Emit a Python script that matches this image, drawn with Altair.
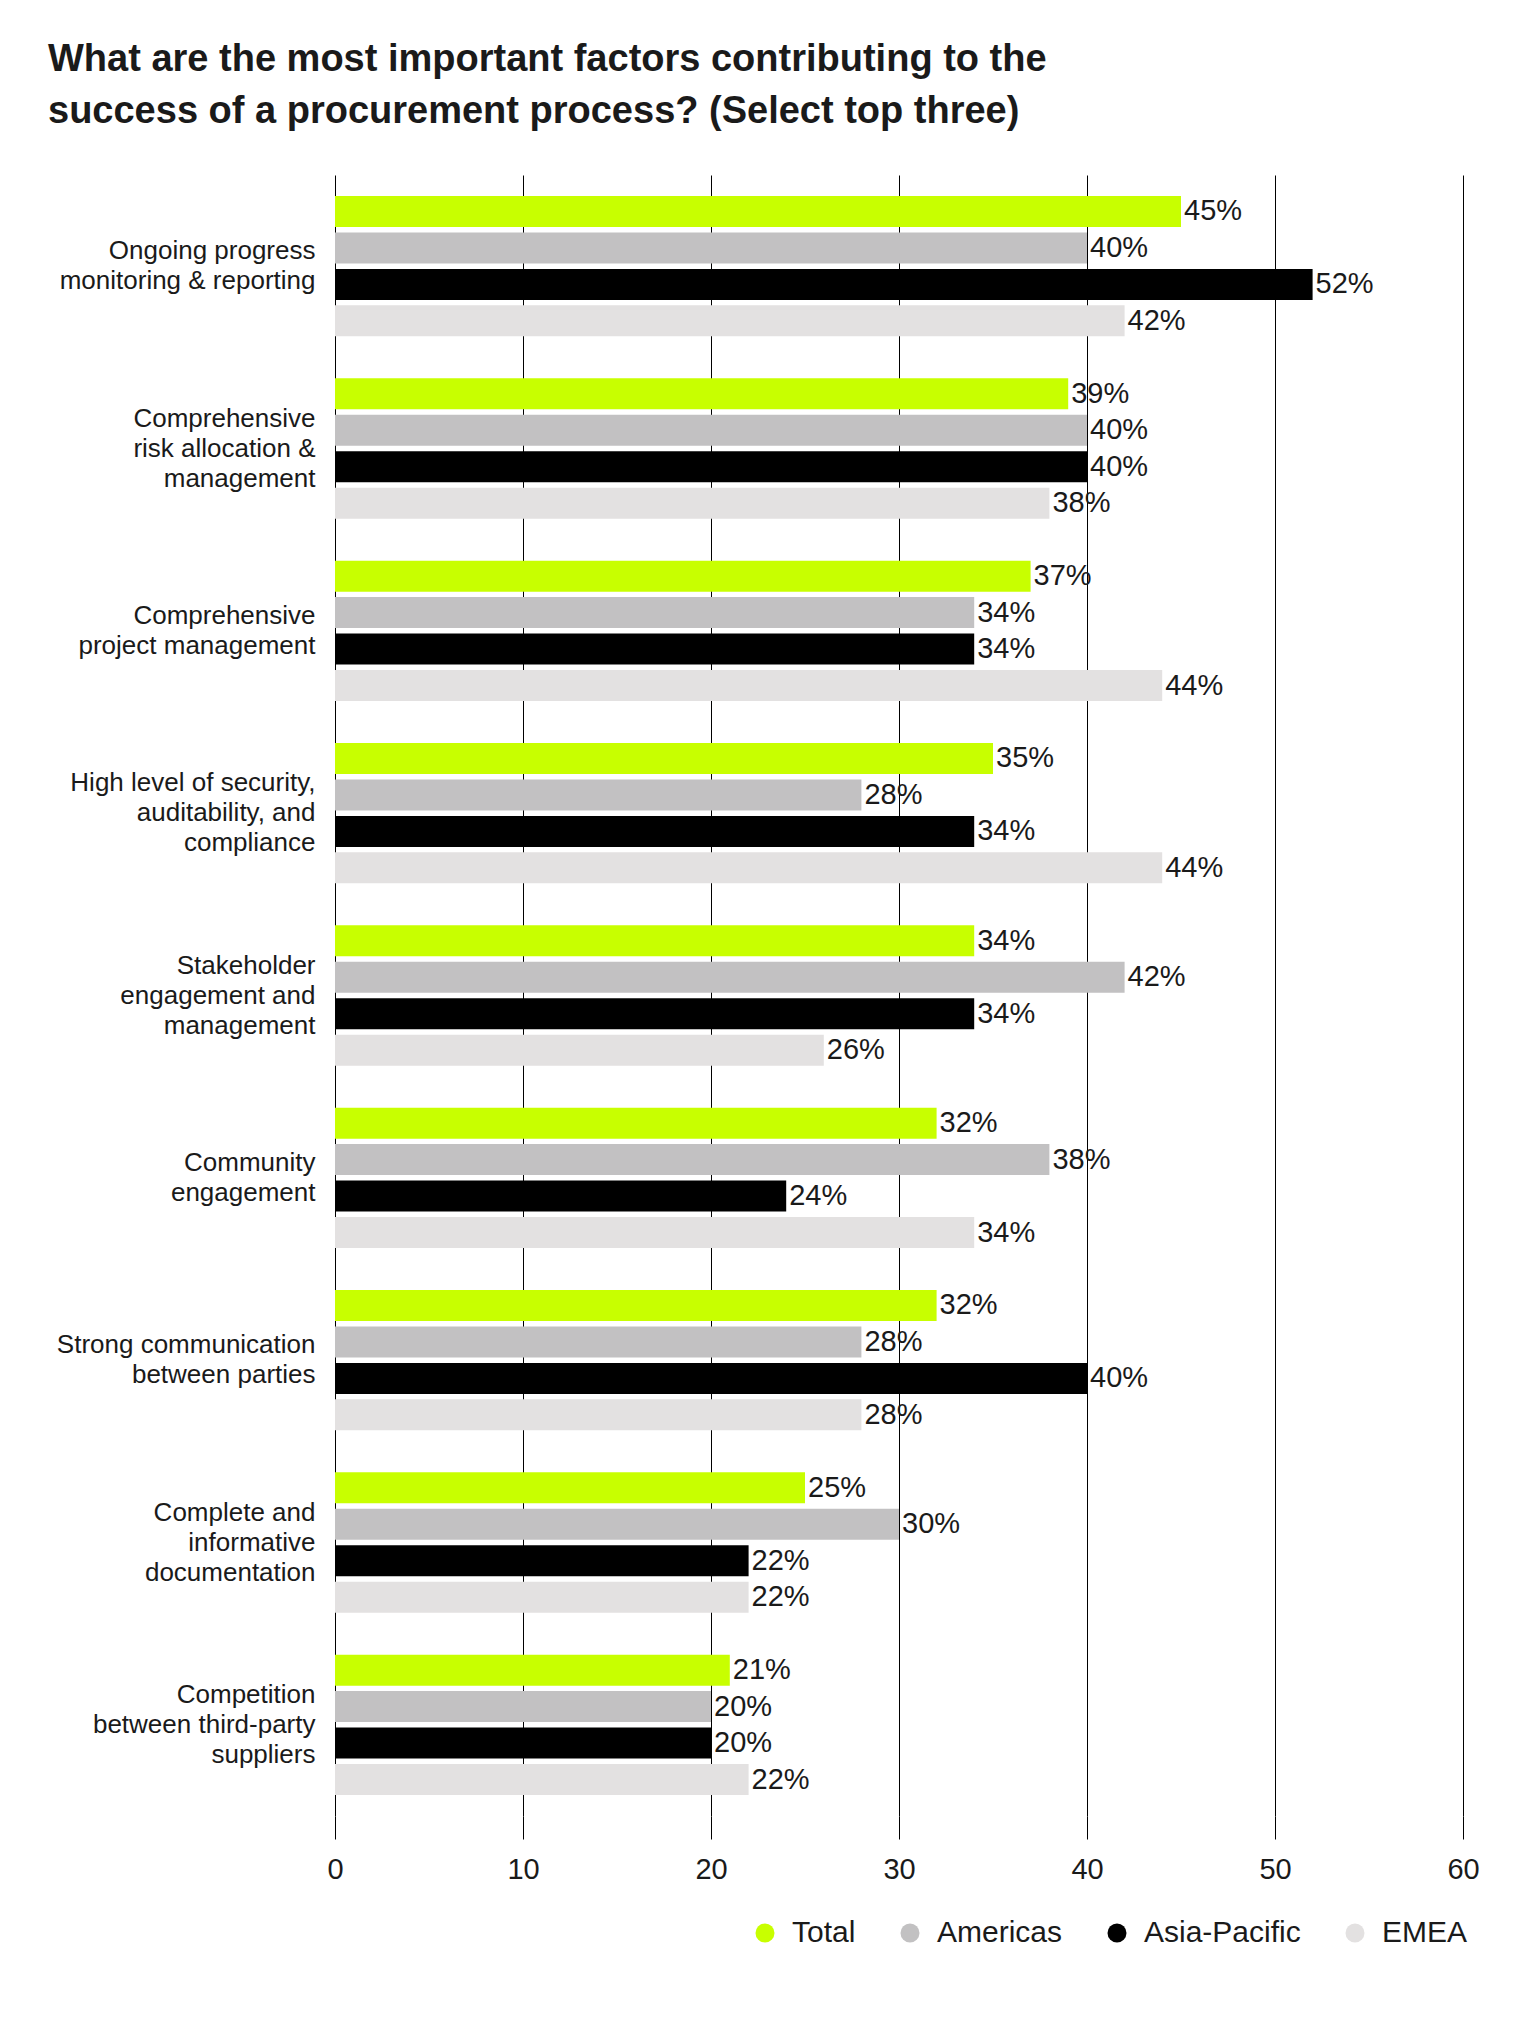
import altair as alt
import pandas as pd

categories = [
    "Ongoing progress|monitoring & reporting",
    "Comprehensive|risk allocation &|management",
    "Comprehensive|project management",
    "High level of security,|auditability, and|compliance",
    "Stakeholder|engagement and|management",
    "Community|engagement",
    "Strong communication|between parties",
    "Complete and|informative|documentation",
    "Competition|between third-party|suppliers",
]
series = ["Total", "Americas", "Asia-Pacific", "EMEA"]
total = [45, 39, 37, 35, 34, 32, 32, 25, 21]
americas = [40, 40, 34, 28, 42, 38, 28, 30, 20]
asia_pacific = [52, 40, 34, 34, 34, 24, 40, 22, 20]
emea = [42, 38, 44, 44, 26, 34, 28, 22, 22]
x_ticks = [0, 10, 20, 30, 40, 50, 60]
colors = ["#C8FF00", "#C2C1C2", "#000000", "#E3E1E1"]

rows = []
for s, vals in zip(series, [total, americas, asia_pacific, emea]):
    for c, v in zip(categories, vals):
        rows.append({"category": c, "series": s, "value": v, "label": f"{v}%"})
df = pd.DataFrame(rows)

FONT = "Liberation Sans"
INK = "#1a1a1a"

y_axis = alt.Axis(
    title=None,
    labelExpr="split(datum.label, '|')",
    ticks=False,
    domain=False,
    grid=False,
    labelFont=FONT,
    labelFontSize=26,
    labelLineHeight=30,
    labelPadding=20,
    labelColor=INK,
    labelLimit=400,
    labelOffset=alt.ExprRef(expr="-(length(split(datum.label, '|')) - 1) * 15"),
)

x_axis = alt.Axis(
    title=None,
    values=x_ticks,
    grid=True,
    gridColor="#000000",
    gridWidth=1,
    gridOpacity=1,
    ticks=True,
    tickColor="#000000",
    tickSize=23,
    tickWidth=1,
    domain=False,
    labelFlush=False,
    labelFont=FONT,
    labelFontSize=29,
    labelPadding=16,
    labelColor=INK,
)

base = alt.Chart(df).encode(
    y=alt.Y(
        "category:N",
        sort=categories,
        scale=alt.Scale(paddingInner=0.23, paddingOuter=0.115),
        axis=y_axis,
    ),
    yOffset=alt.YOffset(
        "series:N", sort=series, scale=alt.Scale(paddingInner=0.15, paddingOuter=0)
    ),
)

bars = base.mark_bar().encode(
    x=alt.X("value:Q", scale=alt.Scale(domain=[0, 60], nice=False), axis=x_axis),
    color=alt.Color(
        "series:N",
        sort=series,
        scale=alt.Scale(domain=series, range=colors),
        legend=alt.Legend(
            title=None,
            orient="none",
            legendX=415,
            legendY=1743,
            direction="horizontal",
            symbolType="circle",
            symbolSize=360,
            symbolStrokeWidth=0,
            labelFont=FONT,
            labelFontSize=30,
            labelColor=INK,
            labelOffset=12,
            columnPadding=39,
        ),
    ),
)

texts = base.mark_text(
    align="left", baseline="middle", dx=3, font=FONT, fontSize=29, color=INK
).encode(
    x=alt.X("value:Q", scale=alt.Scale(domain=[0, 60], nice=False), axis=x_axis),
    text="label:N",
)

chart = (
    alt.layer(bars, texts)
    .properties(
        width=1128,
        height=1641,
        autosize=alt.AutoSizeParams(type="none"),
        padding={"left": 335, "top": 175, "right": 74, "bottom": 227},
        title=alt.TitleParams(
            text=[
                "What are the most important factors contributing to the",
                "success of a procurement process? (Select top three)",
            ],
            anchor="start",
            frame="group",
            dx=-287,
            offset=44,
            font=FONT,
            fontSize=38,
            fontWeight="bold",
            lineHeight=52,
            color=INK,
        ),
    )
    .configure(background="white")
    .configure_view(strokeWidth=0, stroke="transparent")
    .configure_axisY(grid=False)
)

chart.save("out.html", embed_options={"renderer": "svg", "actions": False})
